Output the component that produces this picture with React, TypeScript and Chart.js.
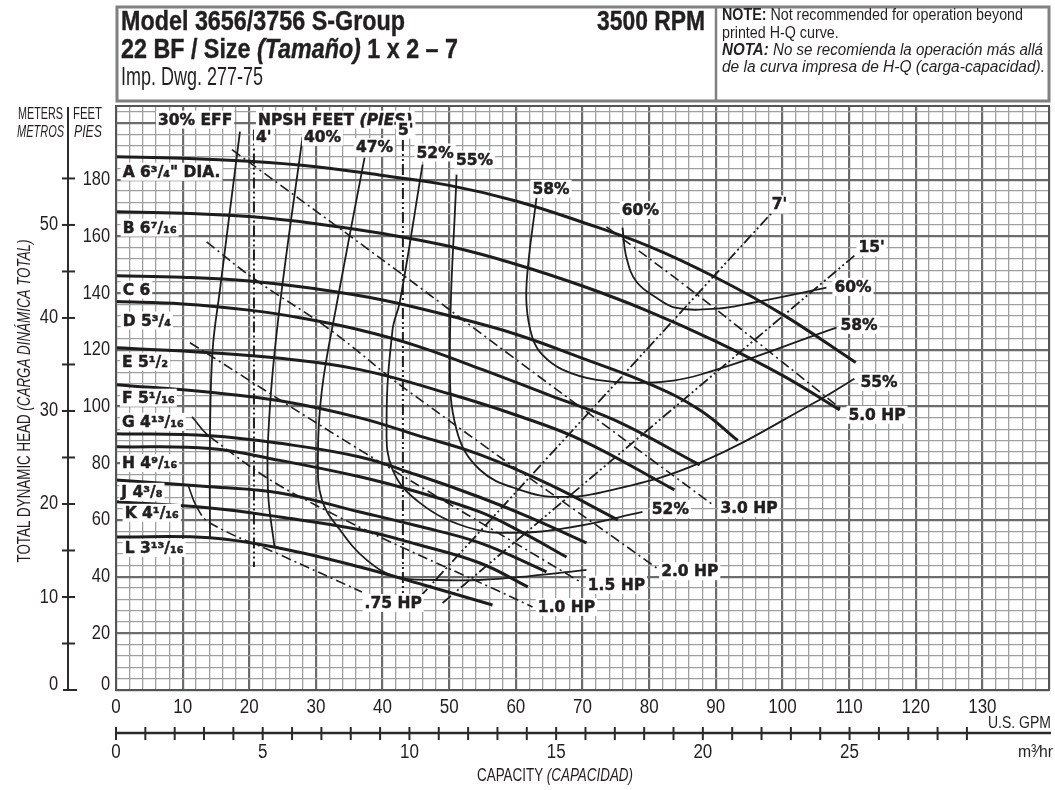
import React, { useEffect, useRef } from "react";
import { Chart, registerables } from "chart.js";

Chart.register(...registerables);

type Pt = [number, number];
type Lbl = { t: string; g: number; f: number };

// ---------- axis ticks ----------
const gpmTicks = [0, 10, 20, 30, 40, 50, 60, 70, 80, 90, 100, 110, 120, 130];
const feetTicks = [0, 20, 40, 60, 80, 100, 120, 140, 160, 180];
const meterLabels = [0, 10, 20, 30, 40, 50];
const meterMinor = [0, 5, 10, 15, 20, 25, 30, 35, 40, 45, 50, 55];
const m3hLabels = [0, 5, 10, 15, 20, 25];
const m3hMinor = [0, 1, 2, 3, 4, 5, 6, 7, 8, 9, 10, 11, 12, 13, 14, 15, 16, 17, 18, 19, 20, 21, 22, 23, 24, 25, 26, 27, 28, 29];
const FT_PER_M = 3.2808;
const GPM_PER_M3H = 4.4029;

// ---------- head-capacity curves (U.S. GPM, feet) ----------
const headA: Pt[] = [[0, 188.1], [10, 187.6], [20, 186.5], [30, 184.6], [40, 181.5], [50, 178], [60, 172.5], [70, 165], [80, 156.5], [90, 145.5], [100, 132.5], [111, 115.5]];
const headB: Pt[] = [[0, 168.7], [10, 168.2], [20, 167], [30, 164.5], [40, 161], [50, 156.5], [60, 150.2], [70, 142.5], [80, 133.5], [90, 123], [100, 111], [108.6, 98.8]];
const headC: Pt[] = [[0, 146.1], [10, 145.6], [20, 144.3], [30, 141.5], [40, 137.6], [50, 132], [60, 125.5], [70, 117], [80, 108], [87.6, 98.8], [93.3, 88]];
const headD: Pt[] = [[0, 137], [10, 136.2], [20, 134], [27.6, 131.3], [36.6, 127], [45, 121.5], [55, 113], [65, 104], [75, 95], [87.6, 79.4]];
const headE: Pt[] = [[0, 120.7], [14.1, 119], [24.6, 117], [36.6, 113], [50, 104.5], [60, 97], [70, 88], [83.8, 70.6]];
const headF: Pt[] = [[0, 107.7], [14.1, 105], [24.6, 102], [36.6, 96], [45, 90], [54.6, 83], [65, 72.5], [75.3, 60]];
const headG: Pt[] = [[0, 90.4], [14.1, 89.7], [24.6, 87], [36.6, 82.2], [45, 76], [54.6, 68], [62, 61], [70.6, 51.9]];
const headH: Pt[] = [[0, 85.8], [14.1, 85.2], [24.6, 81], [36.6, 75.2], [45, 70], [54.6, 62.8], [61, 55.5], [67.6, 46.9]];
const headJ: Pt[] = [[0, 74.1], [14.1, 71.7], [24.6, 69.5], [36.6, 62.8], [45, 58], [54.6, 51.9], [64.6, 41.7]];
const headK: Pt[] = [[0, 66.4], [14.1, 64.2], [24.6, 61], [36.6, 56.5], [45, 51.5], [54.6, 44.8], [61.8, 36.4]];
const headL: Pt[] = [[0, 54], [14.1, 53.7], [24.6, 50], [36.6, 43.4], [47, 36.5], [56.5, 30]];

// ---------- efficiency curves ----------
const eff30: Pt[] = [[18.6, 197], [15.6, 141.2], [14.5, 120], [14.1, 89.3], [14.1, 53.7]];
const eff40: Pt[] = [[28, 195.2], [24.6, 135.9], [23.1, 99.9], [22.8, 70.6], [23.8, 50.1]];
const eff47: Pt[] = [[37.3, 187.8], [33.1, 135.9], [30.9, 105.9], [30.3, 82.2], [30.9, 67.1], [33.6, 56.5], [37.6, 45.9], [42.1, 39.9], [48.1, 38.8], [54.6, 38.8], [62.1, 40.2], [70.6, 42.4]];
const eff52: Pt[] = [[46, 185.3], [42.6, 137], [41.5, 127.1], [40.6, 94.2], [41.5, 77.7], [45.6, 66], [52.6, 57.5], [59.5, 55.4], [68.5, 57.5], [79, 62.8]];
const eff55: Pt[] = [[51.1, 181.8], [50.1, 118.2], [51.1, 91.8], [54.6, 77.7], [60.6, 70.6], [66.6, 68.1], [74.5, 70.6], [87.6, 80.1], [105.6, 102.4], [110.8, 109.8]];
const eff58: Pt[] = [[63.1, 173.7], [61.8, 149], [61.6, 135.9], [62.5, 124.2], [64, 118.2], [67, 113], [72.1, 109.4], [79.6, 108.4], [87.6, 111.2], [108.1, 127.8]];
const eff60: Pt[] = [[76, 163.1], [76.6, 152.5], [78.1, 144], [81.1, 138.4], [84.1, 134.8], [90.1, 134.5], [95.5, 136.6], [106.6, 141.9]];

// ---------- horsepower lines ----------
const hp075: Pt[] = [[10.8, 72.4], [12.1, 64.6], [14.1, 58.9], [24.6, 47.7], [36.9, 34.6]];
const hp10: Pt[] = [[11.4, 96.4], [14.1, 89.3], [27.6, 68.1], [62.5, 29.3]];
const hp15: Pt[] = [[11.1, 122.5], [36.6, 84.7], [69.9, 37.8]];
const hp20: Pt[] = [[13.6, 158.1], [20.5, 145.4], [32.1, 127.1], [43.6, 105.9], [81.1, 43.1]];
const hp30: Pt[] = [[17.4, 190.6], [42.6, 147.2], [59.1, 118.2], [89.8, 64.9]];
const hp50: Pt[] = [[73.6, 163.4], [87.6, 138.7], [109, 98.8]];

// ---------- NPSH lines ----------
const npsh4: Pt[] = [[20.7, 197.7], [20.7, 43.4]];
const npsh5: Pt[] = [[43.05, 194], [43.05, 33.5]];
const npsh7: Pt[] = [[45.6, 32.8], [99.1, 170.1]];
const npsh15: Pt[] = [[49, 30.7], [110.8, 153.2]];

// ---------- labels (anchored in data units) ----------
const curveLabels: Lbl[] = [
  { t: 'A 6³/₄" DIA.', g: 1.0, f: 182.8 },
  { t: "B 6⁷/₁₆", g: 1.0, f: 163.1 },
  { t: "C 6", g: 1.0, f: 141.2 },
  { t: "D 5³/₄", g: 1.0, f: 130.3 },
  { t: "E 5¹/₂", g: 0.9, f: 115.8 },
  { t: "F 5¹/₁₆", g: 0.9, f: 103.1 },
  { t: "G 4¹³/₁₆", g: 0.9, f: 94.6 },
  { t: "H 4⁹/₁₆", g: 0.9, f: 80.1 },
  { t: "J 4³/₈", g: 0.8, f: 69.9 },
  { t: "K 4¹/₁₆", g: 1.3, f: 62.5 },
  { t: "L 3¹³/₁₆", g: 1.3, f: 50.1 },
];
const effLabels: Lbl[] = [
  { t: "30% EFF", g: 6.3, f: 201.2 },
  { t: "40%", g: 28.2, f: 195.2 },
  { t: "47%", g: 36.0, f: 191.5 },
  { t: "52%", g: 45.1, f: 189.6 },
  { t: "55%", g: 51.0, f: 187.1 },
  { t: "58%", g: 62.5, f: 176.8 },
  { t: "60%", g: 75.9, f: 169.3 },
  { t: "60%", g: 107.8, f: 142.2 },
  { t: "58%", g: 108.7, f: 128.8 },
  { t: "55%", g: 111.7, f: 108.7 },
  { t: "52%", g: 80.4, f: 63.9 },
];
const hpLabels: Lbl[] = [
  { t: "5.0 HP", g: 109.9, f: 97.1 },
  { t: "3.0 HP", g: 90.7, f: 64.2 },
  { t: "2.0 HP", g: 81.8, f: 41.9 },
  { t: "1.5 HP", g: 70.8, f: 37.1 },
  { t: "1.0 HP", g: 63.3, f: 29.3 },
  { t: ".75 HP", g: 37.3, f: 30.7 },
];
const npshLabels: Lbl[] = [
  { t: "4'", g: 21.0, f: 195.2 },
  { t: "5'", g: 42.3, f: 197.7 },
  { t: "7'", g: 98.4, f: 171.3 },
  { t: "15'", g: 111.4, f: 156.2 },
];
const npshTitle = { g: 21.3, f: 201.2 };

// ---------- styling ----------
const INK = "#1d1d1d";
const TXT = "#231f20";
const SANS = '"Liberation Sans", Arial, sans-serif';
const BOLDLBL = 'bold 15.5px "DejaVu Sans", sans-serif';
const BOLDLBL_I = 'italic bold 15.5px "DejaVu Sans", sans-serif';
const HP_DASH = [10, 4, 2, 4];
const NPSH_DASH = [11, 3, 2, 3, 2, 3];

type Run = { t: string; f: string };
function drawRuns(
  ctx: CanvasRenderingContext2D,
  runs: Run[],
  x: number,
  y: number,
  o: { scale?: number; width?: number; align?: "left" | "right" | "center"; stroke?: number } = {}
) {
  ctx.save();
  ctx.textAlign = "left";
  let total = 0;
  const ws = runs.map((r) => {
    ctx.font = r.f;
    const w = ctx.measureText(r.t).width;
    total += w;
    return w;
  });
  const s = o.width ? o.width / total : o.scale ?? 1;
  const tw = total * s;
  const x0 = o.align === "right" ? x - tw : o.align === "center" ? x - tw / 2 : x;
  ctx.translate(x0, y);
  ctx.scale(s, 1);
  let cx = 0;
  runs.forEach((r, i) => {
    ctx.font = r.f;
    ctx.fillText(r.t, cx, 0);
    if (o.stroke) {
      ctx.strokeStyle = ctx.fillStyle as string;
      ctx.lineWidth = o.stroke;
      ctx.lineJoin = "round";
      ctx.strokeText(r.t, cx, 0);
    }
    cx += ws[i];
  });
  ctx.restore();
  return tw;
}

function boxLabel(ctx: CanvasRenderingContext2D, runs: Run[], px: number, py: number) {
  ctx.save();
  let w = 0;
  runs.forEach((r) => {
    ctx.font = r.f;
    w += ctx.measureText(r.t).width;
  });
  ctx.fillStyle = "#fff";
  ctx.fillRect(px - 2, py - 9, w + 4, 18);
  ctx.fillStyle = TXT;
  ctx.textBaseline = "middle";
  drawRuns(ctx, runs, px, py + 1, { stroke: 0.5 });
  ctx.restore();
}

const pumpPlugin = {
  id: "pumpDecor",
  beforeDraw(chart: any) {
    const ctx: CanvasRenderingContext2D = chart.ctx;
    ctx.save();
    ctx.fillStyle = "#fff";
    ctx.fillRect(0, 0, chart.width, chart.height);
    ctx.restore();
  },
  afterDatasetsDraw(chart: any) {
    const ctx: CanvasRenderingContext2D = chart.ctx;
    const a = chart.chartArea;
    const xs = chart.scales.x;
    const ys = chart.scales.y;
    const X = (g: number) => xs.getPixelForValue(g);
    const Y = (f: number) => ys.getPixelForValue(f);

    // plot labels with white boxes
    curveLabels.forEach((l) => boxLabel(ctx, [{ t: l.t, f: BOLDLBL }], X(l.g), Y(l.f)));
    effLabels.forEach((l) => boxLabel(ctx, [{ t: l.t, f: BOLDLBL }], X(l.g), Y(l.f)));
    hpLabels.forEach((l) => boxLabel(ctx, [{ t: l.t, f: BOLDLBL }], X(l.g), Y(l.f)));
    boxLabel(
      ctx,
      [
        { t: "NPSH FEET ", f: BOLDLBL },
        { t: "(PIES)", f: BOLDLBL_I },
      ],
      X(npshTitle.g),
      Y(npshTitle.f)
    );
    npshLabels.forEach((l) => boxLabel(ctx, [{ t: l.t, f: BOLDLBL }], X(l.g), Y(l.f)));

    // plot frame
    ctx.save();
    ctx.strokeStyle = "#555";
    ctx.lineWidth = 2;
    ctx.strokeRect(a.left, a.top, a.right - a.left, a.bottom - a.top);
    ctx.restore();

    // ---------- header ----------
    ctx.save();
    ctx.strokeStyle = "#808080";
    ctx.lineWidth = 3;
    ctx.strokeRect(a.left + 1, 7, a.right - a.left - 1, 94);
    ctx.lineWidth = 2.5;
    ctx.beginPath();
    ctx.moveTo(716, 7);
    ctx.lineTo(716, 101);
    ctx.stroke();
    ctx.fillStyle = TXT;
    ctx.textBaseline = "alphabetic";
    const BT = `bold 28px ${SANS}`;
    const BTI = `italic bold 28px ${SANS}`;
    drawRuns(ctx, [{ t: "Model 3656/3756 S-Group", f: BT }], 121, 30, { width: 284, stroke: 0.4 });
    drawRuns(ctx, [{ t: "3500 RPM", f: BT }], 705, 30, { width: 108, align: "right", stroke: 0.4 });
    drawRuns(
      ctx,
      [
        { t: "22 BF / Size ", f: BT },
        { t: "(Tamaño)", f: BTI },
        { t: " 1 x 2 – 7", f: BT },
      ],
      121,
      58,
      { width: 337, stroke: 0.4 }
    );
    drawRuns(ctx, [{ t: "Imp. Dwg. 277-75", f: `25px ${SANS}` }], 121, 85, { width: 142 });

    const N = `16px ${SANS}`;
    const NB = `bold 16px ${SANS}`;
    const NI = `italic 16px ${SANS}`;
    const NBI = `italic bold 16px ${SANS}`;
    ctx.font = NB;
    let w1 = ctx.measureText("NOTE:").width;
    ctx.font = N;
    w1 += ctx.measureText(" Not recommended for operation beyond").width;
    const ns = 301 / w1;
    drawRuns(
      ctx,
      [
        { t: "NOTE:", f: NB },
        { t: " Not recommended for operation beyond", f: N },
      ],
      722,
      20,
      { scale: ns }
    );
    drawRuns(ctx, [{ t: "printed H-Q curve.", f: N }], 722, 38, { scale: ns });
    drawRuns(
      ctx,
      [
        { t: "NOTA:", f: NBI },
        { t: " No se recomienda la operación más allá", f: NI },
      ],
      722,
      55,
      { width: 321 }
    );
    drawRuns(ctx, [{ t: "de la curva impresa de H-Q (carga-capacidad).", f: NI }], 722, 72, { width: 323 });
    ctx.restore();

    // ---------- left axes ----------
    ctx.save();
    ctx.fillStyle = TXT;
    ctx.strokeStyle = "#2a2a2a";
    ctx.textBaseline = "middle";
    const AX = `20px ${SANS}`;
    feetTicks.forEach((v) => {
      drawRuns(ctx, [{ t: String(v), f: AX }], 110, Y(v) + (v === 0 ? -6 : 0), { scale: 0.82, align: "right" });
    });
    // meters axis
    ctx.lineWidth = 2;
    ctx.beginPath();
    ctx.moveTo(68, 107);
    ctx.lineTo(68, a.bottom);
    ctx.stroke();
    meterMinor.forEach((m) => {
      const yy = Y(m * FT_PER_M);
      ctx.beginPath();
      ctx.moveTo(m === 0 ? 63 : 62, yy);
      ctx.lineTo(m === 0 ? 77 : 75, yy);
      ctx.stroke();
    });
    meterLabels.forEach((m) => {
      drawRuns(ctx, [{ t: String(m), f: AX }], 58, Y(m * FT_PER_M) + (m === 0 ? -6 : 0), { scale: 0.82, align: "right" });
    });
    const HS = `16px ${SANS}`;
    const HSI = `italic 16px ${SANS}`;
    drawRuns(ctx, [{ t: "METERS", f: HS }], 63, 115, { width: 45, align: "right" });
    drawRuns(ctx, [{ t: "FEET", f: HS }], 73, 115, { width: 29 });
    drawRuns(ctx, [{ t: "METROS", f: HSI }], 64, 133, { width: 47, align: "right" });
    drawRuns(ctx, [{ t: "PIES", f: HSI }], 74, 133, { width: 28 });
    // rotated title
    ctx.translate(25, 401);
    ctx.rotate(-Math.PI / 2);
    drawRuns(
      ctx,
      [
        { t: "TOTAL DYNAMIC HEAD ", f: `18px ${SANS}` },
        { t: "(CARGA DINÁMICA TOTAL)", f: `italic 18px ${SANS}` },
      ],
      0,
      0,
      { width: 323, align: "center" }
    );
    ctx.restore();

    // ---------- bottom axes ----------
    ctx.save();
    ctx.fillStyle = TXT;
    ctx.strokeStyle = "#2a2a2a";
    ctx.textBaseline = "middle";
    gpmTicks.forEach((g) => {
      drawRuns(ctx, [{ t: String(g), f: AX }], X(g), 707, { scale: 0.85, align: "center" });
    });
    drawRuns(ctx, [{ t: "U.S. GPM", f: `17px ${SANS}` }], 1051, 723, { width: 63, align: "right" });
    ctx.lineWidth = 2.5;
    ctx.beginPath();
    ctx.moveTo(a.left, 733);
    ctx.lineTo(a.right + 2, 733);
    ctx.stroke();
    ctx.lineWidth = 2;
    m3hMinor.forEach((m) => {
      const xx = X(m * GPM_PER_M3H);
      ctx.beginPath();
      ctx.moveTo(xx, 727);
      ctx.lineTo(xx, 740);
      ctx.stroke();
    });
    m3hLabels.forEach((m) => {
      drawRuns(ctx, [{ t: String(m), f: AX }], X(m * GPM_PER_M3H), 752, { scale: 0.85, align: "center" });
    });
    drawRuns(ctx, [{ t: "m³⁄hr", f: `17px ${SANS}` }], 1053, 752, { width: 35, align: "right" });
    drawRuns(
      ctx,
      [
        { t: "CAPACITY ", f: `18px ${SANS}` },
        { t: "(CAPACIDAD)", f: `italic 18px ${SANS}` },
      ],
      477,
      776,
      { width: 156 }
    );
    ctx.restore();
  },
};

function ds(pts: Pt[], w: number, dash: number[] = [], extra: any = {}) {
  return {
    data: pts.map(([x, y]) => ({ x, y })),
    borderColor: INK,
    backgroundColor: INK,
    borderWidth: w,
    borderDash: dash,
    tension: 0.4,
    pointRadius: 0,
    fill: false,
    ...extra,
  };
}

const hookSeg = { segment: { borderDash: (c: any) => (c.p0DataIndex === 0 ? [] : HP_DASH) } };

export default function App() {
  const ref = useRef<HTMLCanvasElement>(null);
  useEffect(() => {
    document.body.style.margin = "0";
    const canvas = ref.current;
    if (!canvas) return;
    const heads = [headA, headB, headC, headD, headE, headF, headG, headH, headJ, headK, headL];
    const effs = [eff30, eff40, eff47, eff52, eff55, eff58, eff60];
    const datasets: any[] = [
      ...heads.map((h) => ds(h, 3)),
      ...effs.map((e) => ds(e, 1.8)),
      ds(hp075, 1.6, HP_DASH, hookSeg),
      ds(hp10, 1.6, HP_DASH, hookSeg),
      ds(hp15, 1.6, HP_DASH),
      ds(hp20, 1.6, HP_DASH),
      ds(hp30, 1.6, HP_DASH),
      ds(hp50, 1.6, HP_DASH),
      ds(npsh4, 2, NPSH_DASH, { tension: 0 }),
      ds(npsh5, 2, NPSH_DASH, { tension: 0 }),
      ds(npsh7, 1.8, NPSH_DASH, { tension: 0 }),
      ds(npsh15, 1.8, NPSH_DASH, { tension: 0 }),
    ];
    const MAJ = "#6c6c6c";
    const MIN = "#a0a0a0";
    const chart = new Chart(canvas, {
      type: "line",
      data: { datasets },
      options: {
        responsive: false,
        animation: false,
        events: [],
        layout: { padding: { left: 116, right: 6, top: 106, bottom: 100 } },
        plugins: { legend: { display: false }, tooltip: { enabled: false }, title: { display: false } },
        scales: {
          x: {
            type: "linear",
            min: 0,
            max: 140,
            ticks: { display: false, stepSize: 2, maxTicksLimit: 1000, autoSkip: false, includeBounds: false },
            grid: {
              drawTicks: false,
              color: (c: any) => (c.tick && Math.round(c.tick.value) % 10 === 0 ? MAJ : MIN),
              lineWidth: (c: any) => (c.tick && Math.round(c.tick.value) % 10 === 0 ? 2.2 : 1.3),
            },
            border: { display: false },
            afterFit: (s: any) => {
              s.height = 0;
            },
          },
          y: {
            type: "linear",
            min: 0,
            max: 206,
            ticks: { display: false, stepSize: 4, maxTicksLimit: 1000, autoSkip: false, includeBounds: false },
            grid: {
              drawTicks: false,
              color: (c: any) => (c.tick && Math.round(c.tick.value) % 20 === 0 ? MAJ : MIN),
              lineWidth: (c: any) => (c.tick && Math.round(c.tick.value) % 20 === 0 ? 2.2 : 1.3),
            },
            border: { display: false },
            afterFit: (s: any) => {
              s.width = 0;
            },
          },
        },
      } as any,
      plugins: [pumpPlugin as any],
    });
    return () => chart.destroy();
  }, []);
  return <canvas ref={ref} width={1055} height={790} style={{ display: "block", width: 1055, height: 790 }} />;
}
